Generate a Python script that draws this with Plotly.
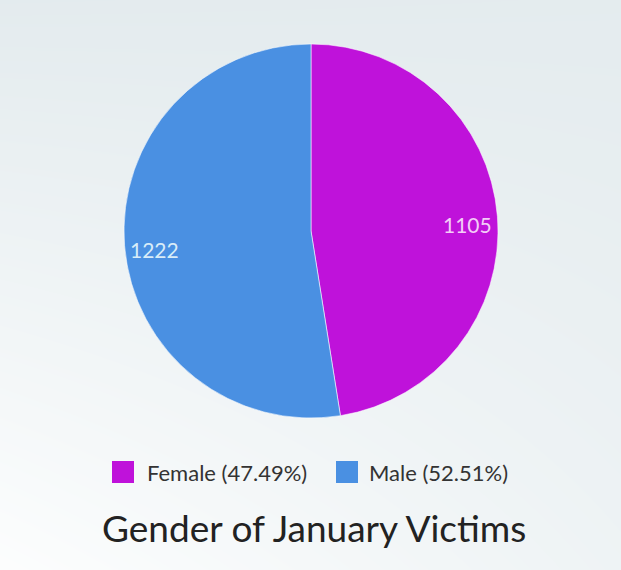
import math
import plotly.graph_objects as go

# Data
genders = ["Female", "Male"]
victims = [1105, 1222]
slice_colors = ["#bf12da", "#4a90e2"]
value_text_colors = ["#f3cdf7", "#d8ecf8"]
title_text = "Gender of January Victims"

W, H = 621, 570
FONT = "Lato, 'Open Sans', sans-serif"

# Pie geometry (pixels)
cx_px, cy_px, r_px = 311, 231, 187
total = sum(victims)
shares = [v / total for v in victims]

fig = go.Figure()

# Soft diagonal background wash drawn with a smoothed heatmap
fig.add_trace(go.Heatmap(
    x=[0, 1], y=[0, 1],
    z=[[0.97, 0.45], [0.05, 0.08]],
    zmin=0, zmax=1, zsmooth="best", showscale=False, hoverinfo="skip",
    colorscale=[[0, "#e2eaed"], [1, "#fdfefe"]],
    xaxis="x", yaxis="y",
))

fig.add_trace(go.Pie(
    labels=genders, values=victims, sort=False, direction="clockwise",
    rotation=0, textinfo="none", hoverinfo="label+value+percent",
    marker=dict(colors=slice_colors, line=dict(color="rgba(255,255,255,0.55)", width=1)),
    domain=dict(x=[(cx_px - r_px) / W, (cx_px + r_px) / W],
                y=[1 - (cy_px + r_px) / H, 1 - (cy_px - r_px) / H]),
    showlegend=False,
))

annotations = []
# Value labels placed along each slice's mid-angle
start = 0.0
for v, s, tc in zip(victims, shares, value_text_colors):
    mid = (start + s / 2) * 2 * math.pi
    start += s
    x_px = cx_px + 0.84 * r_px * math.sin(mid)
    y_px = cy_px - 0.84 * r_px * math.cos(mid)
    annotations.append(dict(
        x=x_px / W, y=1 - y_px / H, xref="paper", yref="paper",
        xanchor="center", yanchor="middle",
        text=str(v), showarrow=False, yshift=-6,
        font=dict(family=FONT, size=21, color=tc),
    ))

# Legend: swatch + label with percentage
shapes = []
legend_y = 1 - 472 / H
sw = 22
legend_items = [(112, 145), (336, 367)]
for (sx, tx), g, s, c in zip(legend_items, genders, shares, slice_colors):
    shapes.append(dict(
        type="rect", xref="paper", yref="paper",
        x0=sx / W, x1=(sx + sw) / W,
        y0=legend_y - (sw / 2) / H, y1=legend_y + (sw / 2) / H,
        fillcolor=c, line=dict(width=0),
    ))
    annotations.append(dict(
        x=tx / W, y=legend_y, xref="paper", yref="paper",
        xanchor="left", yanchor="middle", showarrow=False,
        text=f"{g} ({s * 100:.2f}%)",
        font=dict(family=FONT, size=22, color="#333333"),
    ))

annotations.append(dict(
    x=(100 + 527) / 2 / W, y=1 - 527 / H, xref="paper", yref="paper",
    xanchor="center", yanchor="middle", showarrow=False,
    text=title_text, font=dict(family=FONT, size=37, color="#222222"),
))

fig.update_layout(
    width=W, height=H, margin=dict(l=0, r=0, t=0, b=0),
    paper_bgcolor="#ffffff", plot_bgcolor="#ffffff",
    xaxis=dict(range=[0, 1], visible=False, domain=[0, 1], fixedrange=True),
    yaxis=dict(range=[0, 1], visible=False, domain=[0, 1], fixedrange=True),
    shapes=shapes, annotations=annotations, showlegend=False,
)

fig.write_html("out.html")
